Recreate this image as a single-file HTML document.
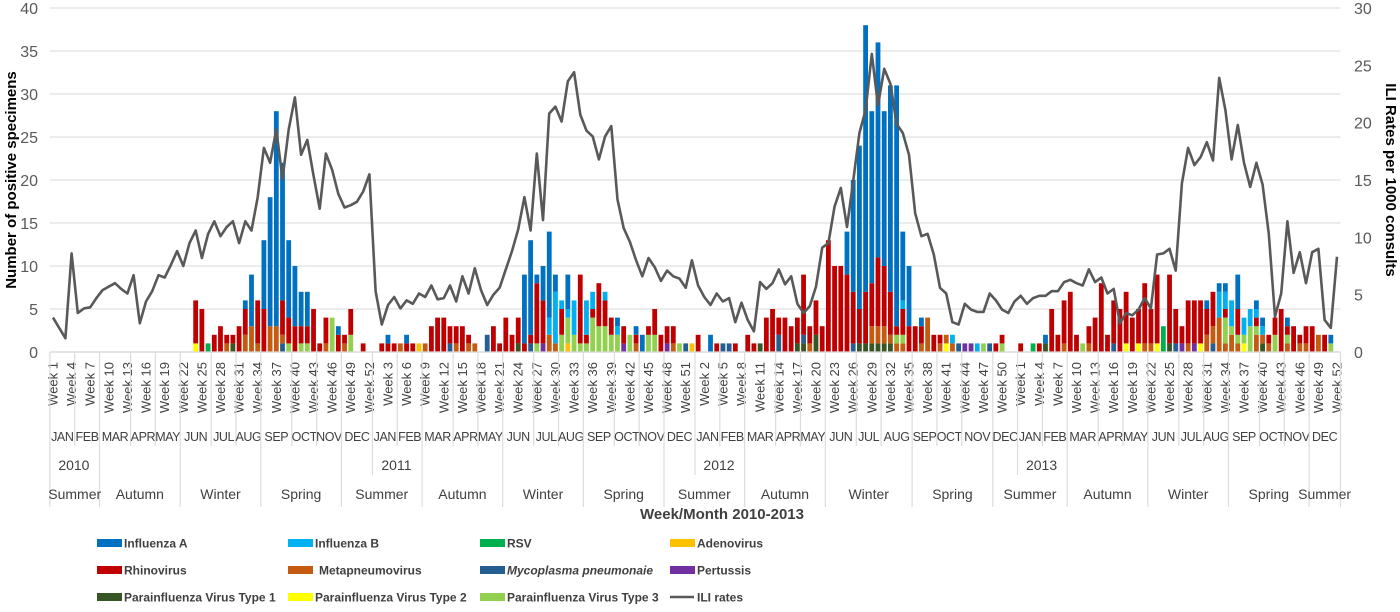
<!DOCTYPE html>
<html><head><meta charset="utf-8"><style>
html,body{margin:0;padding:0;background:#fff;}
svg{display:block;font-family:"Liberation Sans",sans-serif;}
</style></head><body>
<svg id="chart" width="1400" height="612" viewBox="0 0 1400 612" xmlns="http://www.w3.org/2000/svg">
<g id="grid"></g>
<g id="bars"></g>
<g id="line"></g>
<g id="axes"></g>
<text transform="translate(16,180) rotate(-90)" text-anchor="middle" font-size="15" font-weight="bold" fill="#000">Number of positive specimens</text>
<text transform="translate(1386,180) rotate(90)" text-anchor="middle" font-size="15" font-weight="bold" fill="#000">ILI Rates per 1000 consults</text>
<text x="722" y="519" text-anchor="middle" font-size="15" font-weight="bold" fill="#404040">Week/Month 2010-2013</text>
<g id="legend"></g>
</svg>
<script>
// ---- data (week index 0..207 : [index, count]) ----
const fluA = [[31,1],[32,6],[34,8],[35,15],[36,25],[37,16],[38,9],[39,7],[40,4],[41,4],[46,1],[54,1],[57,1],[76,8],[77,11],[78,1],[79,4],[80,10],[81,2],[83,4],[91,1],[94,1],[95,2],[106,2],[128,5],[129,13],[130,19],[131,31],[132,20],[133,25],[134,18],[135,24],[136,28],[137,8],[138,7],[140,1],[160,1],[186,1],[188,1],[189,1],[191,4],[194,1],[195,1],[199,1],[206,1]];
const fluB = [[80,2],[81,6],[82,1],[83,1],[84,4],[86,4],[87,2],[89,1],[91,1],[137,1],[145,1],[149,1],[188,3],[189,2],[190,3],[192,2],[193,2],[194,1],[195,1]];
const rsv = [[25,1],[158,1],[179,3]];
const adeno = [[59,1],[83,1],[103,1]];
const rhino = [[23,5],[24,5],[26,2],[27,3],[28,1],[29,1],[30,3],[31,3],[33,5],[34,5],[37,4],[38,3],[39,3],[40,2],[41,2],[42,5],[43,1],[44,3],[46,2],[47,1],[48,3],[50,1],[53,1],[54,1],[55,1],[57,1],[58,1],[61,3],[62,4],[63,4],[64,2],[65,2],[66,3],[67,1],[71,3],[72,1],[73,4],[74,2],[75,3],[76,1],[77,1],[78,7],[79,5],[82,3],[85,8],[86,1],[87,1],[88,5],[89,3],[90,2],[92,2],[94,1],[96,1],[97,3],[98,2],[99,2],[100,2],[104,2],[107,1],[110,1],[112,2],[113,1],[115,4],[116,5],[117,2],[118,4],[119,3],[120,3],[121,7],[122,2],[123,4],[124,3],[125,13],[126,10],[127,10],[128,9],[129,6],[130,4],[131,6],[132,5],[133,8],[134,7],[135,5],[136,1],[137,3],[138,3],[139,3],[140,2],[142,2],[143,1],[152,1],[153,1],[156,1],[159,1],[161,5],[162,2],[163,5],[164,7],[165,2],[167,2],[168,4],[169,8],[170,2],[171,5],[172,5],[173,6],[174,4],[175,4],[176,7],[177,4],[178,8],[180,8],[181,4],[182,2],[183,5],[184,5],[185,5],[186,3],[187,4],[189,1],[191,3],[194,1],[196,1],[197,2],[198,5],[199,1],[200,3],[201,1],[202,2],[203,3],[205,2]];
const meta = [[28,1],[31,2],[32,3],[33,1],[35,3],[36,3],[37,1],[44,1],[47,1],[56,1],[60,1],[65,1],[67,1],[68,1],[80,2],[81,1],[94,1],[100,1],[122,1],[132,2],[133,2],[134,2],[135,1],[136,1],[137,1],[140,1],[141,4],[143,1],[144,1],[145,1],[163,1],[167,1],[176,1],[177,1],[183,1],[186,2],[187,2],[188,4],[189,1],[190,2],[191,1],[194,2],[195,1],[196,1],[199,1],[201,1],[202,1],[204,2]];
const myco = [[37,1],[64,1],[70,2],[77,1],[102,1],[108,1],[109,1],[117,2],[121,1],[129,1],[146,1],[151,1],[171,1],[181,1],[187,1]];
const pertussis = [[79,1],[92,1],[99,1],[147,1],[148,1],[182,1],[184,1]];
const para1 = [[29,1],[75,1],[114,1],[120,1],[121,1],[123,2],[130,1],[131,1],[132,1],[133,1],[134,1],[135,1],[160,1],[180,1],[195,1]];
const para2 = [[23,1],[144,1],[173,1],[175,1],[178,1],[185,1],[192,1]];
const para3 = [[38,1],[40,1],[41,1],[45,4],[48,2],[78,1],[82,2],[83,3],[84,2],[85,1],[86,1],[87,4],[88,3],[89,3],[90,2],[91,2],[93,2],[96,2],[97,2],[101,1],[136,1],[137,1],[150,1],[153,1],[166,1],[189,3],[190,1],[191,1],[192,1],[193,3],[194,1],[197,2],[199,1],[206,1]];
const iliRates = [3.0,2.1,1.2,8.6,3.4,3.8,3.9,4.7,5.4,5.7,6.0,5.5,5.1,6.7,2.5,4.4,5.3,6.7,6.5,7.6,8.8,7.5,9.5,10.6,8.2,10.3,11.4,10.1,10.9,11.4,9.5,11.4,10.6,13.5,17.8,16.5,19.4,15.1,19.4,22.2,17.2,18.5,15.4,12.5,17.3,15.9,13.8,12.6,12.8,13.1,14.0,15.5,
5.3,2.4,4.1,4.8,3.8,4.5,4.2,5.1,4.8,5.8,4.6,4.7,5.8,4.4,6.6,5.1,7.3,5.4,4.1,5.0,5.6,7.2,8.8,10.7,13.5,10.6,17.3,11.5,20.8,21.4,20.1,23.6,24.4,20.7,19.3,18.8,16.8,18.8,19.7,13.3,10.8,9.6,8.0,6.6,8.2,7.4,6.2,7.1,6.6,6.4,5.6,8.0,
5.8,4.8,4.1,5.1,4.4,4.7,2.6,4.3,2.8,1.8,6.1,5.5,6.0,7.2,5.9,6.6,4.2,3.4,4.0,5.7,9.1,9.5,12.7,14.3,10.9,14.9,19.1,21.1,26.0,21.5,24.7,23.4,19.9,19.1,17.2,12.1,10.1,10.3,8.5,5.6,5.1,2.6,2.4,4.2,3.7,3.5,3.5,5.1,4.5,3.7,3.4,4.4,
4.9,4.2,4.7,4.9,4.9,5.3,5.3,6.1,6.3,6.0,5.8,7.2,6.1,6.5,5.1,5.5,2.5,3.4,3.2,3.7,4.7,3.8,8.5,8.6,9.0,7.1,14.7,17.8,16.3,17.0,18.3,16.7,23.9,21.1,16.8,19.8,16.5,14.4,16.5,14.6,10.3,3.1,5.1,11.4,6.9,8.7,6.0,8.7,9.0,2.8,2.1,8.3];
const leftTicks = [0,5,10,15,20,25,30,35,40];
const rightTicks = [0,5,10,15,20,25,30];
const years = ["2010","2011","2012","2013"];
const monthNames = ["JAN","FEB","MAR","APR","MAY","JUN","JUL","AUG","SEP","OCT","NOV","DEC"];

// ---- layout ----
const NS="http://www.w3.org/2000/svg";
const N=208, X0=53, STEP=6.203, PL=49.9, PR=1340.5, Y0=352, YT=8;
const xAt=i=>X0+STEP*i;
const yL=v=>Y0-v*(Y0-YT)/40;
const yR=v=>Y0-v*(Y0-YT)/30;
function mk(tag,attrs,parent){const e=document.createElementNS(NS,tag);for(const k in attrs)e.setAttribute(k,attrs[k]);parent.appendChild(e);return e;}
const G=id=>document.getElementById(id);

leftTicks.forEach(v=>{
  const l=mk('line',{x1:PL,x2:PR,y1:yL(v),y2:yL(v),stroke:'#e0e0e0','stroke-width':1.3},G('grid'));
  
  
  const t=mk('text',{x:38,y:yL(v)+6,'text-anchor':'end','font-size':16,fill:'#595959'},G('axes'));
  t.textContent=v;
  
  
});
rightTicks.forEach(v=>{
  const t=mk('text',{x:1354,y:yR(v)+6,'text-anchor':'start','font-size':16,fill:'#595959'},G('axes'));
  t.textContent=v;
  
  
});

const series=[
 {name:'Parainfluenza Virus Type 1',d:para1,c:'#375623'},
 {name:'Parainfluenza Virus Type 2',d:para2,c:'#ffff00'},
 {name:'Mycoplasma pneumonaie',d:myco,c:'#255e91',it:true},
 {name:'Pertussis',d:pertussis,c:'#7030a0'},
 {name:'Adenovirus',d:adeno,c:'#ffc000'},
 {name:'RSV',d:rsv,c:'#00b050'},
 {name:'Metapneumovirus',d:meta,c:'#c55a11'},
 {name:'Parainfluenza Virus Type 3',d:para3,c:'#92d050'},
 {name:'Rhinovirus',d:rhino,c:'#c00000'},
 {name:'Influenza B',d:fluB,c:'#00b0f0'},
 {name:'Influenza A',d:fluA,c:'#0070c0'}
];
const base=new Array(N).fill(0);
series.forEach(s=>{
  const vals=new Array(N).fill(0);
  s.d.forEach(p=>{vals[p[0]]+=p[1];});
  vals.forEach((v,i)=>{
    if(!v)return;
    const y1=yL(base[i]+v), y2=yL(base[i]);
    const r=mk('rect',{x:xAt(i)-2.4,y:y1,width:4.8,height:y2-y1,fill:s.c},G('bars'));
    
    
    base[i]+=v;
  });
});

const pl=mk('polyline',{points:iliRates.map((v,i)=>xAt(i).toFixed(1)+','+yR(v).toFixed(1)).join(' '),fill:'none',stroke:'#595959','stroke-width':2.6,'stroke-linejoin':'round'},G('line'));



const bl=mk('line',{x1:PL,x2:PR,y1:Y0,y2:Y0,stroke:'#d9d9d9','stroke-width':1.3},G('axes'));



for(let i=0;i<N;i+=3){
  const t=mk('text',{transform:`translate(${xAt(i)+4.5},362) rotate(-90)`,'text-anchor':'end','font-size':13,fill:'#404040'},G('axes'));
  t.textContent='Week '+((i%52)+1);
  
  
}

const edge=i=>X0+STEP*(i-0.5);
function vline(x,y2,name){const l=mk('line',{x1:x,x2:x,y1:Y0,y2:y2,stroke:'#dcdcdc','stroke-width':1.2},G('axes'));}
const monthOf=[];
for(let y=0;y<4;y++)for(let w=0;w<52;w++){monthOf.push(new Date(2010+y,0,6+7*w).getMonth());}
let start=0;
const seasonStarts=[0];
for(let i=1;i<=N;i++){
  if(i===N||monthOf[i]!==monthOf[start]){
    const m=monthOf[start];
    const t=mk('text',{x:(edge(start)+edge(i))/2,y:441,'text-anchor':'middle','font-size':12.5,fill:'#404040','letter-spacing':'-0.4'},G('axes'));
    t.textContent=monthNames[m];
    
    
    if(i<N){
      const nm=monthOf[i];
      if(i%52===0) vline(edge(i),nm===11||nm===2||nm===5||nm===8?507:475,'year-separator');
      else if(nm===2||nm===5||nm===8||nm===11){vline(edge(i),507,'season-separator');}
      else vline(edge(i),446,'month-separator');
      if(nm===2||nm===5||nm===8||nm===11) seasonStarts.push(i);
    }
    start=i;
  }
}
vline(PL,507,'axis-left-edge');
vline(PR,507,'axis-right-edge');
years.forEach((yr,k)=>{
  const t=mk('text',{x:edge(k*52)+24,y:470,'text-anchor':'middle','font-size':14,fill:'#404040'},G('axes'));
  t.textContent=yr;
  
  
});
seasonStarts.push(N);
for(let k=0;k<seasonStarts.length-1;k++){
  const a=seasonStarts[k],b=seasonStarts[k+1];
  const m=monthOf[a];
  const name=(m===11||m<2)?'Summer':m<5?'Autumn':m<8?'Winter':'Spring';
  const t=mk('text',{x:(edge(a)+edge(b))/2,y:499,'text-anchor':'middle','font-size':14,fill:'#404040'},G('axes'));
  t.textContent=name;
  
  
}

const legendOrder=['Influenza A','Influenza B','RSV','Adenovirus','Rhinovirus','Metapneumovirus','Mycoplasma pneumonaie','Pertussis','Parainfluenza Virus Type 1','Parainfluenza Virus Type 2','Parainfluenza Virus Type 3','ILI rates'];
const colX=[97,288,480,670], rowY=[543,570,597];
legendOrder.forEach((nm,k)=>{
  const x=colX[k%4], y=rowY[Math.floor(k/4)];
  const s=series.find(q=>q.name===nm);
  const g=mk('g',{},G('legend'));
  
  
  if(s){ mk('rect',{x:x,y:y-4,width:25,height:8,fill:s.c},g); }
  else { mk('line',{x1:x,x2:x+24,y1:y,y2:y,stroke:'#595959','stroke-width':2.5},g); }
  const t=mk('text',{x:x+(nm==='Metapneumovirus'?31:27),y:y+4.5,'font-size':12,'font-weight':'bold',fill:'#404040','font-style':(s&&s.it)?'italic':'normal'},g);
  t.textContent=nm;
});
</script>
</body></html>
